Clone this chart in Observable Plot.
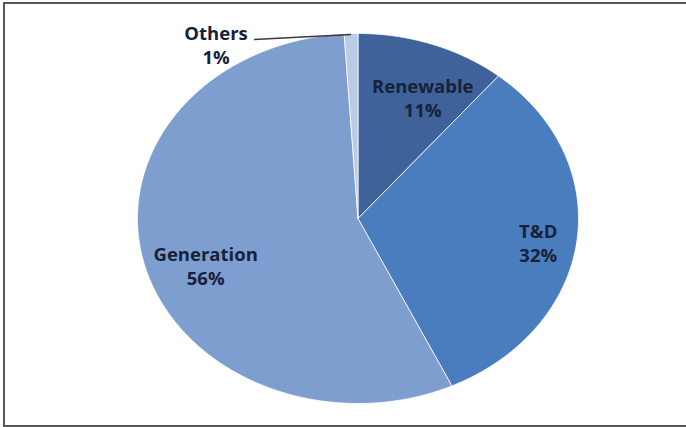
<!DOCTYPE html>
<html>
<head>
<meta charset="utf-8">
<script src="https://cdn.jsdelivr.net/npm/d3@7"></script>
<script src="https://cdn.jsdelivr.net/npm/@observablehq/plot@0.6"></script>
<style>
  html, body { margin: 0; padding: 0; background: #fff; overflow: hidden; }
  #frame { position: absolute; left: 3px; top: 2px; width: 700px; height: 425px;
           border: 2px solid #575757; box-sizing: border-box; }
  #chart { position: absolute; left: 0; top: 0; }
</style>
</head>
<body>
<div id="frame"></div>
<div id="chart"></div>
<script>
// Investment split by segment (percent), clockwise from 12 o'clock
const categories = ["Renewable", "T&D", "Generation", "Others"];
const shares = [11, 32, 56, 1];
const colors = ["#3E6299", "#4A7DBD", "#7E9ED0", "#BACBE5"];

// Pixel radii of the (slightly stretched) pie
const RX = 220.5, RY = 185;

const total = d3.sum(shares);
let acc = 0;
const slices = categories.map((name, i) => {
  const a0 = acc / total * 2 * Math.PI;
  acc += shares[i];
  const a1 = acc / total * 2 * Math.PI;
  return {name, value: shares[i], a0, a1, mid: (a0 + a1) / 2};
});

// Wedge outlines: centre, arc, back to centre
const outline = slices.flatMap(s => {
  const n = Math.max(2, Math.ceil((s.a1 - s.a0) / (Math.PI / 360)));
  const pts = [{name: s.name, x: 0, y: 0}];
  for (let k = 0; k <= n; k++) {
    const a = s.a0 + (s.a1 - s.a0) * k / n;
    pts.push({name: s.name, x: Math.sin(a), y: Math.cos(a)});
  }
  pts.push({name: s.name, x: 0, y: 0});
  return pts;
});

// Inside labels sit at 0.76 of the radius, with small pixel nudges
const labelR = 0.76;
const nudge = {"Renewable": [8, 11], "T&D": [14, 6], "Generation": [10, 12]};
const inside = slices.filter(s => s.name in nudge);
const others = slices.filter(s => s.name === "Others");

const font = {fontFamily: "Open Sans", fontWeight: "bold", fontSize: 18.5, fill: "#17223a", lineHeight: 1.3};

const chart = Plot.plot({
  width: 686,
  height: 427,
  margin: 0,
  x: {domain: [-1, 1], range: [137, 578], axis: null},
  y: {domain: [-1, 1], range: [403, 33], axis: null},
  color: {domain: categories, range: colors},
  style: {background: "transparent"},
  marks: [
    Plot.line(outline, {x: "x", y: "y", z: "name", fill: "name", stroke: "white", strokeWidth: 0.75, curve: "linear"}),
    Plot.text(inside, {
      x: s => labelR * Math.sin(s.mid) + nudge[s.name][0] / RX,
      y: s => labelR * Math.cos(s.mid) - nudge[s.name][1] / RY,
      text: s => `${s.name}\n${s.value}%`,
      ...font
    }),
    // Leader line from the "Others" label to its sliver
    Plot.link(others, {
      x1: s => Math.sin(s.mid) - 97 / RX,
      y1: s => Math.cos(s.mid) - 6 / RY,
      x2: s => Math.sin(s.mid),
      y2: s => Math.cos(s.mid) - 1 / RY,
      stroke: "#3a3a3a",
      strokeWidth: 1.5
    }),
    Plot.text(others, {
      x: s => Math.sin(s.mid) - 135 / RX,
      y: s => Math.cos(s.mid) - 11 / RY,
      text: s => `${s.name}\n${s.value}%`,
      ...font
    })
  ]
});
document.getElementById("chart").appendChild(chart);
</script>
</body>
</html>
